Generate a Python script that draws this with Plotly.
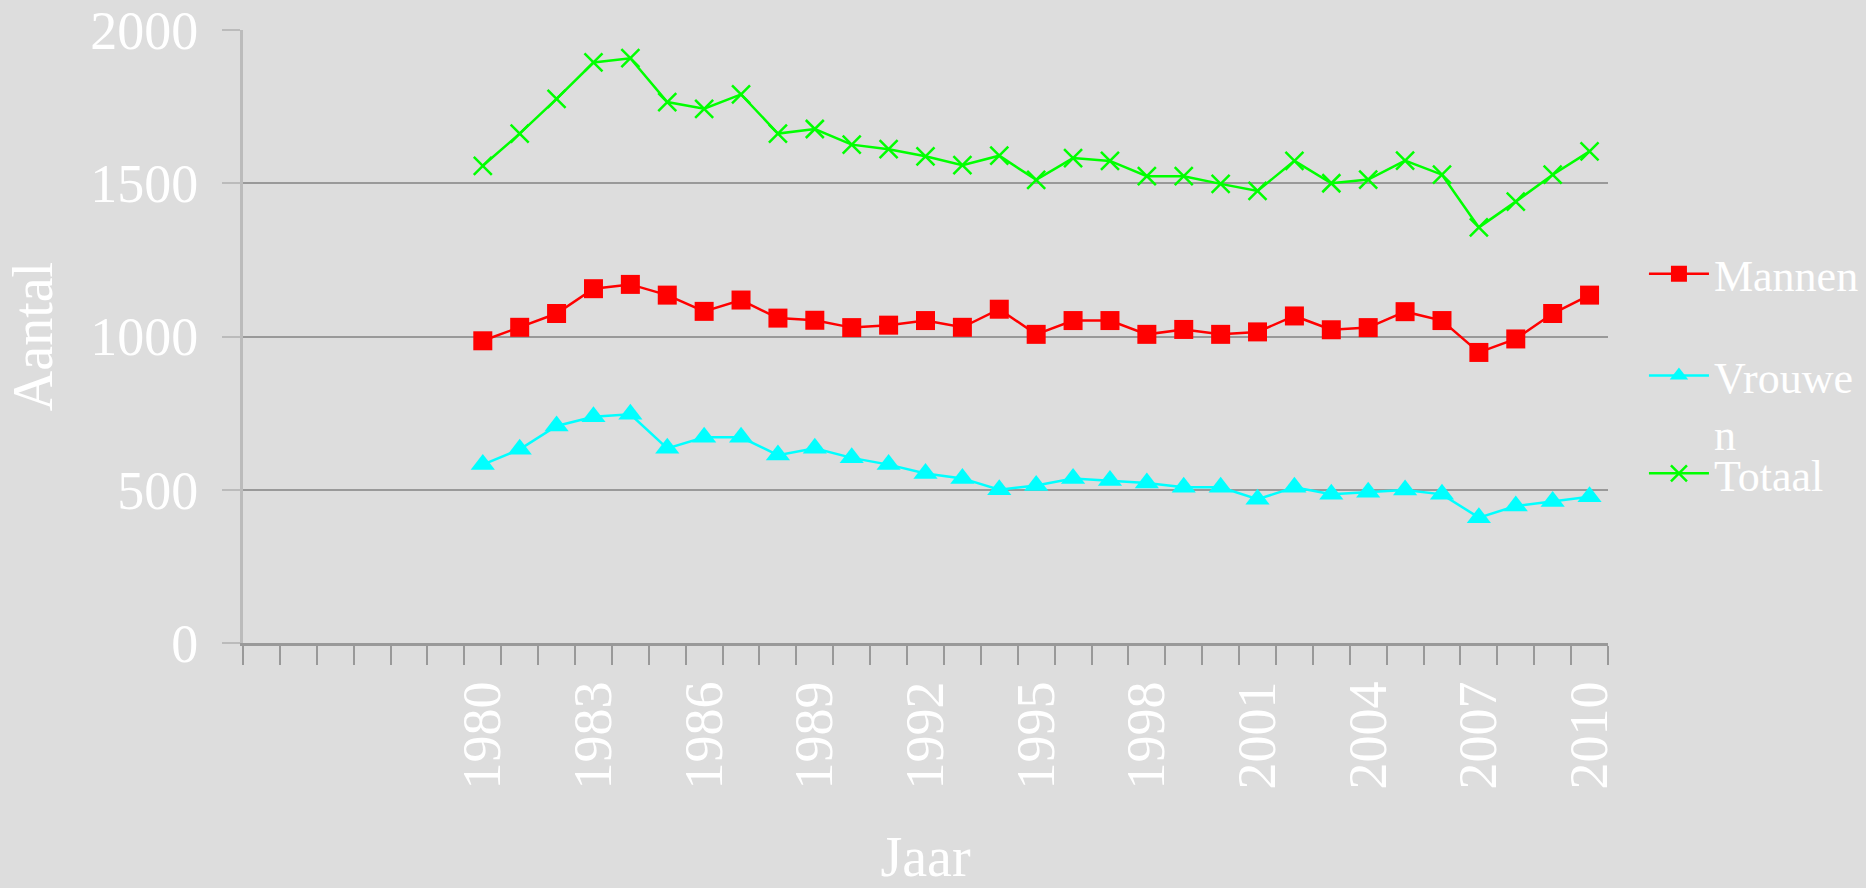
import plotly.graph_objects as go

years = list(range(1980, 2011))
mannen = [986, 1030, 1075, 1156, 1170, 1135, 1082, 1119, 1060, 1053,
          1029, 1037, 1052, 1030, 1089, 1007, 1052, 1052, 1007, 1023,
          1007, 1015, 1067, 1022, 1029, 1081, 1052, 948, 992, 1075, 1135]
vrouwen = [582, 632, 708, 738, 746, 635, 671, 671, 613, 635,
           604, 582, 553, 537, 500, 514, 537, 530, 522, 508,
           508, 469, 508, 485, 492, 499, 485, 409, 447, 462, 477]
totaal = [1557, 1662, 1775, 1894, 1908, 1765, 1743, 1790, 1662, 1677,
          1626, 1611, 1588, 1559, 1590, 1511, 1582, 1573, 1523, 1523,
          1498, 1475, 1573, 1500, 1512, 1574, 1528, 1356, 1440, 1528, 1604]
tick_years = list(range(1980, 2011, 3))
tick_labels = [str(y) for y in tick_years]
y_ticks = [0, 500, 1000, 1500, 2000]

FONT = "Liberation Serif, Times New Roman, serif"
BG = "#DDDDDD"

fig = go.Figure()
fig.add_trace(go.Scatter(
    x=years, y=mannen, name="Mannen", mode="lines+markers",
    line=dict(color="#FF0000", width=2.5),
    marker=dict(symbol="square", size=19, color="#FF0000"),
    legend="legend"))
fig.add_trace(go.Scatter(
    x=years, y=vrouwen, name="Vrouwe<br>n", mode="lines+markers",
    line=dict(color="#00FFFF", width=2.5),
    marker=dict(symbol="triangle-up", size=21, color="#00FFFF"),
    legend="legend2"))
fig.add_trace(go.Scatter(
    x=years, y=totaal, name="Totaal", mode="lines+markers",
    line=dict(color="#00FF00", width=2.5),
    marker=dict(symbol="x-thin", size=18, color="#00FF00",
                line=dict(color="#00FF00", width=2.5)),
    legend="legend3"))

leg_common = dict(font=dict(family=FONT, size=44, color="white"),
                  bgcolor="rgba(0,0,0,0)",
                  xref="container", yref="container",
                  x=0.881, xanchor="left",
                  itemwidth=60, valign="top", yanchor="middle",
                  visible=True)

fig.update_layout(
    width=1866, height=888,
    showlegend=True,
    paper_bgcolor=BG, plot_bgcolor=BG,
    margin=dict(l=243, r=258, t=30, b=245),
    font=dict(family=FONT, color="white"),
    legend=dict(**leg_common, y=0.6914),
    legend2=dict(**leg_common, y=0.5445),
    legend3=dict(**leg_common, y=0.4665),
    xaxis=dict(
        range=[1973.5, 2010.5],
        automargin=False,
        tickvals=tick_years, ticktext=tick_labels,
        tickangle=-90, ticks="",
        tickfont=dict(family=FONT, size=54, color="white"),
        ticklabelstandoff=14,
        showgrid=False, zeroline=False,
        showline=True, linecolor="#999999", linewidth=3,
        minor=dict(tick0=1973.5, dtick=1, ticks="outside", ticklen=19,
                   tickcolor="#999999", tickwidth=2, showgrid=False),
        title=dict(text="Jaar", font=dict(family=FONT, size=56, color="white"),
                   standoff=72),
    ),
    yaxis=dict(
        range=[0, 2000], tickvals=y_ticks,
        automargin=False,
        ticks="outside", ticklen=18, tickcolor="#BBBBBB", tickwidth=2,
        tickfont=dict(family=FONT, size=54, color="white"),
        ticklabelstandoff=13,
        showgrid=True, gridcolor="#999999", gridwidth=2,
        zeroline=False,
        showline=True, linecolor="#BBBBBB", linewidth=3,
        title=dict(text="Aantal", font=dict(family=FONT, size=56, color="white"),
                   standoff=20),
    ),
)

fig.write_html(
    "out.html",
    config={"displayModeBar": False},
    post_script="document.body.style.margin='0';document.body.style.overflow='hidden';",
)
